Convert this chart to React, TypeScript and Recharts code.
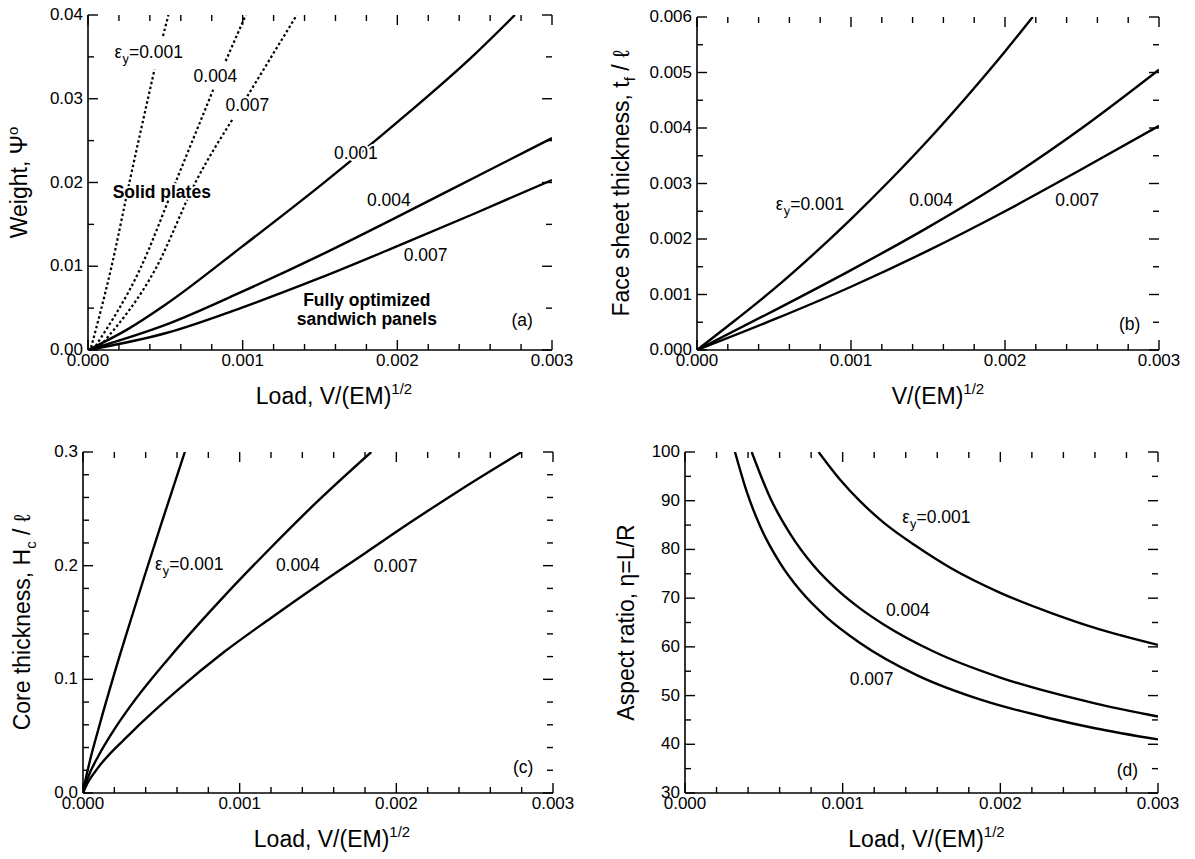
import React from "react";
import { LineChart, Line, XAxis, YAxis, ReferenceDot } from "recharts";

const FONT = '"Liberation Sans", Arial, Helvetica, sans-serif';
type Pt = [number, number | null];
type Lbl = [string, number, number, boolean?];

// load axis, shared by all four panels
const loadTicks = [0, 0.0002, 0.0004, 0.0006, 0.0008, 0.001, 0.0012, 0.0014, 0.0016, 0.0018, 0.002, 0.0022, 0.0024, 0.0026, 0.0028, 0.003];
const loadMajor = [0, 0.001, 0.002, 0.003];

// (a) weight
const aYTicks = [0, 0.005, 0.01, 0.015, 0.02, 0.025, 0.03, 0.035, 0.04];
const aYMajor = [0, 0.01, 0.02, 0.03, 0.04];
const aPlate001: Pt[] = [[0.00002, 0.0003], [0.00015, 0.0098], [0.00027, 0.0202], [0.00043, 0.0335], [0.00045, null], [0.000485, 0.0375], [0.00052, 0.04]];
const aPlate004: Pt[] = [[0.00005, 0.0005], [0.00034, 0.0098], [0.00057, 0.0202], [0.00081, 0.0311], [0.00085, null], [0.00089, 0.0345], [0.00102, 0.04]];
const aPlate007: Pt[] = [[0.00008, 0.0005], [0.00044, 0.0098], [0.0007, 0.0202], [0.00094, 0.0277], [0.00098, null], [0.00103, 0.0303], [0.00135, 0.04]];
const aSand001: Pt[] = [[0, 0], [0.00025, 0.0024], [0.0005, 0.0054], [0.001, 0.0124], [0.0015, 0.0196], [0.002, 0.0272], [0.0025, 0.0353], [0.00276, 0.04]];
const aSand004: Pt[] = [[0, 0], [0.0005, 0.003], [0.001, 0.007], [0.0015, 0.0113], [0.002, 0.0159], [0.0025, 0.0206], [0.003, 0.0253]];
const aSand007: Pt[] = [[0, 0], [0.0005, 0.002], [0.001, 0.0051], [0.0015, 0.0086], [0.002, 0.0124], [0.0025, 0.0163], [0.003, 0.0203]];
const aLabels: Lbl[] = [
  ["εy=0.001", 0.000393, 0.0356],
  ["0.004", 0.000824, 0.0327],
  ["0.007", 0.00103, 0.0292],
  ["Solid plates", 0.000477, 0.0189, true],
  ["0.001", 0.001732, 0.0235],
  ["0.004", 0.001945, 0.0179],
  ["0.007", 0.002183, 0.01134],
  ["Fully optimized", 0.001803, 0.00597, true],
  ["sandwich panels", 0.001803, 0.00376, true],
  ["(a)", 0.002807, 0.00364],
];

// (b) face sheet thickness
const bYTicks = [0, 0.0005, 0.001, 0.0015, 0.002, 0.0025, 0.003, 0.0035, 0.004, 0.0045, 0.005, 0.0055, 0.006];
const bYMajor = [0, 0.001, 0.002, 0.003, 0.004, 0.005, 0.006];
const bFace001: Pt[] = [[0, 0], [0.00025, 0.00054], [0.0005, 0.0011], [0.00075, 0.00171], [0.001, 0.00236], [0.00125, 0.00305], [0.0015, 0.00378], [0.00175, 0.00456], [0.002, 0.00538], [0.00218, 0.006]];
const bFace004: Pt[] = [[0, 0], [0.0005, 0.00071], [0.001, 0.00144], [0.0015, 0.00221], [0.002, 0.00305], [0.0025, 0.004], [0.003, 0.00505]];
const bFace007: Pt[] = [[0, 0], [0.0005, 0.00055], [0.001, 0.00114], [0.0015, 0.00179], [0.002, 0.0025], [0.0025, 0.00326], [0.003, 0.00404]];
const bLabels: Lbl[] = [
  ["εy=0.001", 0.000734, 0.00263],
  ["0.004", 0.00152, 0.0027],
  ["0.007", 0.002468, 0.0027],
  ["(b)", 0.00281, 0.00047],
];

// (c) core thickness
const cYTicks = [0, 0.02, 0.04, 0.06, 0.08, 0.1, 0.12, 0.14, 0.16, 0.18, 0.2, 0.22, 0.24, 0.26, 0.28, 0.3];
const cYMajor = [0, 0.1, 0.2, 0.3];
const cCore001: Pt[] = [[0, 0], [0.00001, 0.0075], [0.00004, 0.026], [0.0001, 0.057], [0.0002, 0.105], [0.0003, 0.15], [0.0004, 0.194], [0.0005, 0.237], [0.00065, 0.3]];
const cCore004: Pt[] = [[0, 0], [0.00003, 0.013], [0.0001, 0.033], [0.0002, 0.056], [0.0003, 0.076], [0.0006, 0.127], [0.0009, 0.173], [0.0012, 0.216], [0.0015, 0.257], [0.00184, 0.3]];
const cCore007: Pt[] = [[0, 0], [0.00003, 0.009], [0.0001, 0.023], [0.0003, 0.052], [0.0006, 0.09], [0.0009, 0.124], [0.0012, 0.154], [0.0015, 0.183], [0.0018, 0.211], [0.0021, 0.239], [0.0024, 0.266], [0.0028, 0.3]];
const cLabels: Lbl[] = [
  ["εy=0.001", 0.000678, 0.2014],
  ["0.004", 0.001371, 0.2005],
  ["0.007", 0.001995, 0.2001],
  ["(c)", 0.00281, 0.0233],
];

// (d) aspect ratio
const dYTicks = [30, 35, 40, 45, 50, 55, 60, 65, 70, 75, 80, 85, 90, 95, 100];
const dYMajor = [30, 40, 50, 60, 70, 80, 90, 100];
const dAspect001: Pt[] = [[0.000847, 100], [0.000984, 94.3], [0.00111, 89.9], [0.00126, 85.5], [0.00147, 80.6], [0.00168, 76.3], [0.002, 71.1], [0.00232, 67.0], [0.0026, 63.9], [0.003, 60.4]];
const dAspect004: Pt[] = [[0.000423, 100], [0.00054, 90.6], [0.000667, 83.2], [0.000815, 76.7], [0.000963, 71.8], [0.00111, 67.9], [0.00126, 64.6], [0.00158, 59], [0.002, 53.7], [0.0026, 48.4], [0.003, 45.7]];
const dAspect007: Pt[] = [[0.000317, 100], [0.000392, 91.8], [0.000476, 84.8], [0.000603, 77.2], [0.00073, 71.6], [0.0009, 66], [0.00111, 60.8], [0.00147, 54.2], [0.00189, 49], [0.00232, 45.3], [0.0026, 43.3], [0.003, 41]];
const dLabels: Lbl[] = [
  ["εy=0.001", 0.001594, 86.6],
  ["0.004", 0.001413, 67.5],
  ["0.007", 0.001184, 53.3],
  ["(d)", 0.002806, 34.8],
];

const isMajor = (majors: number[], v: number) => majors.some((m) => Math.abs(m - v) < 1e-9);

function PlotText({ cx, cy, text, bold }: { cx: number; cy: number; text: string; bold?: boolean }) {
  const common = {
    x: cx,
    y: cy + 6,
    textAnchor: "middle" as const,
    fontSize: 17.5,
    fontFamily: FONT,
    fontWeight: bold ? 700 : 400,
    fill: "#000",
    stroke: "#fff",
    strokeWidth: 4,
    strokeLinejoin: "round" as const,
    paintOrder: "stroke",
  };
  if (text.startsWith("εy")) {
    return (
      <text {...common}>
        ε<tspan dy={5} fontSize={13}>y</tspan>
        <tspan dy={-5}>{text.slice(2)}</tspan>
      </text>
    );
  }
  return <text {...common}>{text}</text>;
}

interface Series {
  pts: Pt[];
  dotted?: boolean;
}

interface PanelProps {
  left: number;
  top: number;
  width: number;
  height: number;
  yWidth: number;
  marginTop: number;
  marginRight: number;
  xHeight: number;
  yDomain: [number, number];
  yTicks: number[];
  yMajor: number[];
  yDigits: number;
  series: Series[];
  labels: Lbl[];
  xTitle: React.ReactNode;
  xTitleShift: number;
  yTitle: React.ReactNode;
  yTitleX: number;
}

function Panel(p: PanelProps) {
  const plotW = p.width - p.yWidth - p.marginRight;
  const plotH = p.height - p.marginTop - p.xHeight;
  const frame = { stroke: "#000", strokeWidth: 1.6 };

  const xTick = (t: any) => {
    const v = t.payload.value;
    const major = isMajor(loadMajor, v);
    const len = major ? 10 : 6;
    return (
      <g>
        <line x1={t.x} x2={t.x} y1={t.y} y2={t.y - len} stroke="#000" strokeWidth={1.4} />
        <line x1={t.x} x2={t.x} y1={t.y - plotH} y2={t.y - plotH + len} stroke="#000" strokeWidth={1.4} />
        {major && (
          <text x={t.x} y={t.y + 16} textAnchor="middle" fontSize={17} fontFamily={FONT} fill="#000">
            {v.toFixed(3)}
          </text>
        )}
      </g>
    );
  };

  const yTick = (t: any) => {
    const v = t.payload.value;
    const major = isMajor(p.yMajor, v);
    const len = major ? 10 : 6;
    return (
      <g>
        <line x1={t.x} x2={t.x + len} y1={t.y} y2={t.y} stroke="#000" strokeWidth={1.4} />
        <line x1={t.x + plotW} x2={t.x + plotW - len} y1={t.y} y2={t.y} stroke="#000" strokeWidth={1.4} />
        {major && (
          <text x={t.x - 5} y={t.y + 5} textAnchor="end" fontSize={17} fontFamily={FONT} fill="#000">
            {v.toFixed(p.yDigits)}
          </text>
        )}
      </g>
    );
  };

  const xTitle = () => (
    <text
      x={p.yWidth + plotW / 2 + p.xTitleShift}
      y={p.marginTop + plotH + 54}
      textAnchor="middle"
      fontSize={23}
      fontFamily={FONT}
      fill="#000"
    >
      {p.xTitle}
    </text>
  );

  const yTitle = () => (
    <text
      transform={`translate(${p.yTitleX},${p.marginTop + plotH / 2}) rotate(-90)`}
      textAnchor="middle"
      fontSize={23}
      fontFamily={FONT}
      fill="#000"
    >
      {p.yTitle}
    </text>
  );

  return (
    <div style={{ position: "absolute", left: p.left, top: p.top }}>
      <LineChart width={p.width} height={p.height} margin={{ top: p.marginTop, right: p.marginRight, bottom: 0, left: 0 }}>
        <XAxis
          xAxisId="b"
          dataKey="x"
          type="number"
          domain={[0, 0.003]}
          ticks={loadTicks}
          interval={0}
          allowDataOverflow
          height={p.xHeight}
          tickLine={false}
          tickSize={0}
          tickMargin={0}
          tick={xTick}
          axisLine={frame}
          label={{ content: xTitle }}
        />
        <XAxis xAxisId="t" orientation="top" type="number" domain={[0, 0.003]} height={0} tick={false} tickLine={false} axisLine={frame} />
        <YAxis
          yAxisId="l"
          type="number"
          domain={p.yDomain}
          ticks={p.yTicks}
          interval={0}
          allowDataOverflow
          width={p.yWidth}
          tickLine={false}
          tickSize={0}
          tickMargin={0}
          tick={yTick}
          axisLine={frame}
          label={{ content: yTitle }}
        />
        <YAxis yAxisId="r" orientation="right" type="number" domain={p.yDomain} width={0} tick={false} tickLine={false} axisLine={frame} />
        {p.series.map((s, i) => (
          <Line
            key={i}
            xAxisId="b"
            yAxisId="l"
            data={s.pts.map(([x, y]) => ({ x, y }))}
            dataKey="y"
            type="monotone"
            stroke="#000"
            strokeWidth={s.dotted ? 2.2 : 2.4}
            strokeDasharray={s.dotted ? "2.5 2.5" : undefined}
            dot={false}
            activeDot={false}
            isAnimationActive={false}
          />
        ))}
        {p.labels.map(([text, x, y, bold], i) => (
          <ReferenceDot
            key={`l${i}`}
            xAxisId="b"
            yAxisId="l"
            x={x}
            y={y}
            r={0}
            shape={(d: any) => <PlotText cx={d.cx} cy={d.cy} text={text} bold={bold} />}
          />
        ))}
      </LineChart>
    </div>
  );
}

const sup = (s: string) => (
  <tspan dy={-10} fontSize={15}>
    {s}
  </tspan>
);

export default function App() {
  return (
    <div style={{ position: "absolute", left: 0, top: 0, width: 1195, height: 859, background: "#fff" }}>
      <Panel
        left={0}
        top={0}
        width={590}
        height={425}
        yWidth={88}
        marginTop={15}
        marginRight={38}
        xHeight={75}
        yDomain={[0, 0.04]}
        yTicks={aYTicks}
        yMajor={aYMajor}
        yDigits={2}
        series={[
          { pts: aPlate001, dotted: true },
          { pts: aPlate004, dotted: true },
          { pts: aPlate007, dotted: true },
          { pts: aSand001 },
          { pts: aSand004 },
          { pts: aSand007 },
        ]}
        labels={aLabels}
        xTitle={<>Load, V/(EM){sup("1/2")}</>}
        xTitleShift={14}
        yTitle={<>Weight, Ψ<tspan dy={-9} fontSize={15}>o</tspan></>}
        yTitleX={27}
      />
      <Panel
        left={595}
        top={0}
        width={600}
        height={425}
        yWidth={102}
        marginTop={17}
        marginRight={36}
        xHeight={75}
        yDomain={[0, 0.006]}
        yTicks={bYTicks}
        yMajor={bYMajor}
        yDigits={3}
        series={[{ pts: bFace001 }, { pts: bFace004 }, { pts: bFace007 }]}
        labels={bLabels}
        xTitle={<>V/(EM){sup("1/2")}</>}
        xTitleShift={10}
        yTitle={<>Face sheet thickness, t<tspan dy={6} fontSize={15}>f</tspan><tspan dy={-6}> / ℓ</tspan></>}
        yTitleX={34}
      />
      <Panel
        left={0}
        top={430}
        width={590}
        height={429}
        yWidth={83}
        marginTop={22}
        marginRight={37}
        xHeight={66}
        yDomain={[0, 0.3]}
        yTicks={cYTicks}
        yMajor={cYMajor}
        yDigits={1}
        series={[{ pts: cCore001 }, { pts: cCore004 }, { pts: cCore007 }]}
        labels={cLabels}
        xTitle={<>Load, V/(EM){sup("1/2")}</>}
        xTitleShift={14}
        yTitle={<>Core thickness, H<tspan dy={6} fontSize={15}>c</tspan><tspan dy={-6}> / ℓ</tspan></>}
        yTitleX={30}
      />
      <Panel
        left={595}
        top={430}
        width={600}
        height={429}
        yWidth={90}
        marginTop={22}
        marginRight={37}
        xHeight={66}
        yDomain={[30, 100]}
        yTicks={dYTicks}
        yMajor={dYMajor}
        yDigits={0}
        series={[{ pts: dAspect001 }, { pts: dAspect004 }, { pts: dAspect007 }]}
        labels={dLabels}
        xTitle={<>Load, V/(EM){sup("1/2")}</>}
        xTitleShift={5}
        yTitle={<>Aspect ratio, η=L/R</>}
        yTitleX={39}
      />
    </div>
  );
}
